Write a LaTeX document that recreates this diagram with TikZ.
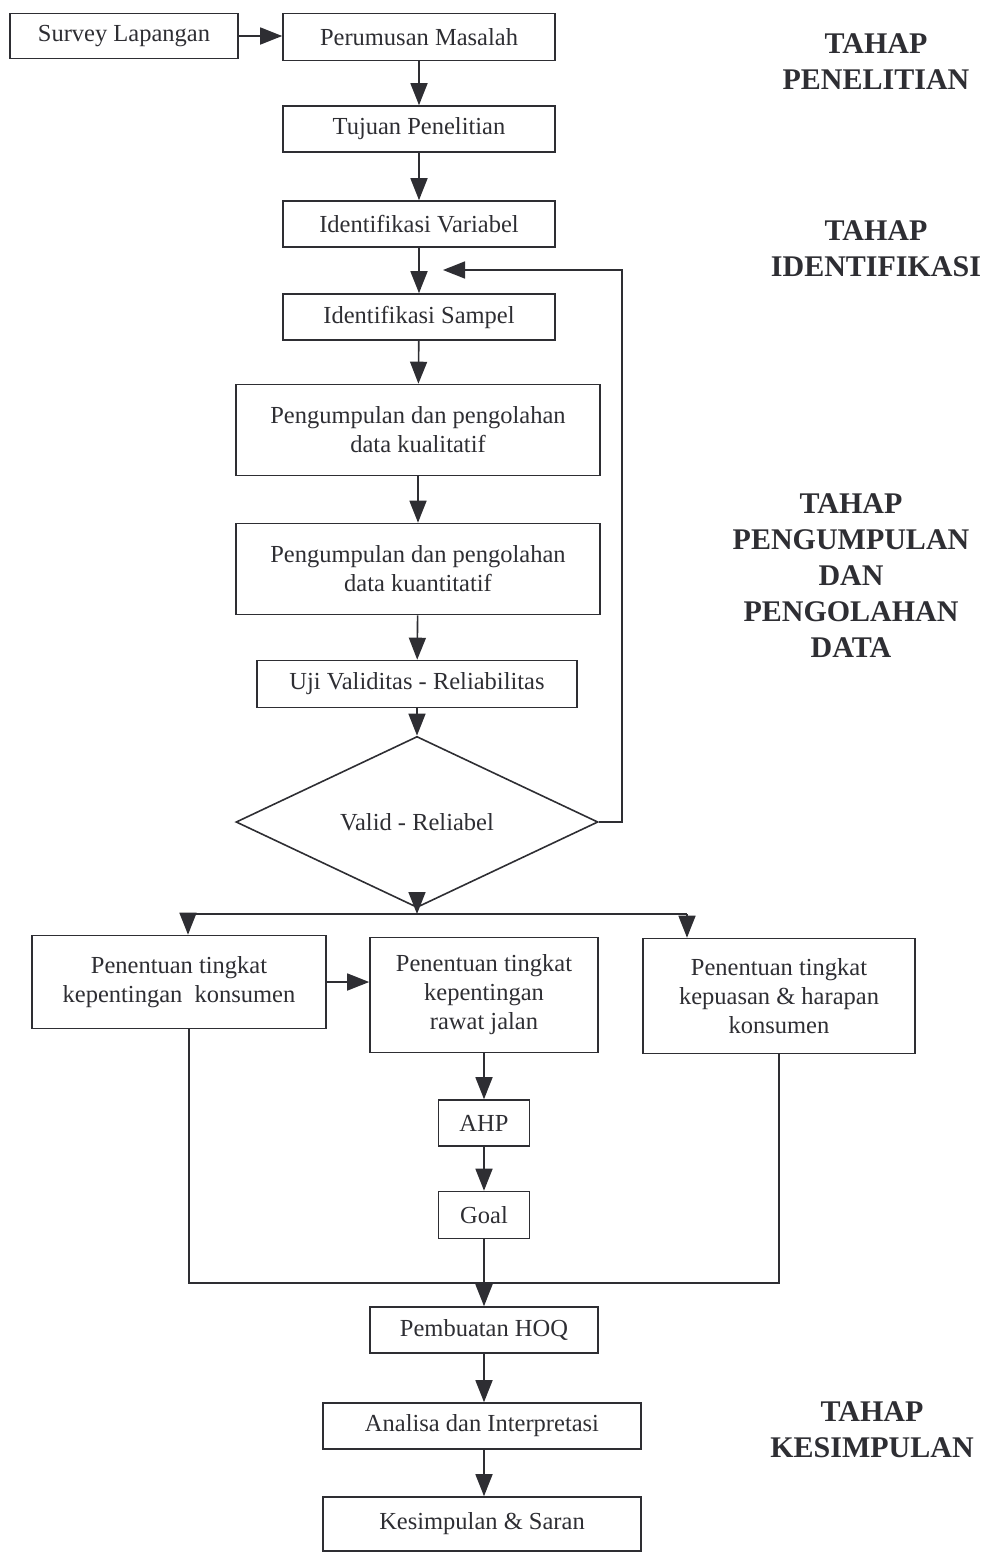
\documentclass[tikz,border=0pt]{standalone}
\usepackage{fontspec}
\setmainfont{Liberation Serif}
\usepackage{xcolor}
\definecolor{tinta}{rgb}{0.18,0.18,0.2}
\usetikzlibrary{shapes.geometric, arrows.meta}

\begin{document}
\begin{tikzpicture}[x=1pt, y=-1pt,
		kotak/.style={draw=tinta, line width=1.6pt, rectangle, align=center, inner sep=2pt, text=tinta, font=\fontsize{24.5}{29}\selectfont},
		tahap/.style={align=center, text=tinta, font=\fontsize{30}{36}\selectfont\bfseries},
		panah/.style={draw=tinta, line width=1.6pt, -{Triangle[length=22pt, width=17pt]}},
		garis/.style={draw=tinta, line width=1.6pt}]
	\useasboundingbox (0,0) rectangle (986,1553);

	% Tahap penelitian
	\node[kotak, minimum width=228pt, minimum height=45pt] (survei) at (124,36) {Survey Lapangan};
	\node[kotak, minimum width=272pt, minimum height=47pt] (masalah) at (419,37) {Perumusan Masalah};
	\node[kotak, minimum width=272pt, minimum height=46pt] (tujuan) at (419,129) {Tujuan Penelitian};

	% Tahap identifikasi
	\node[kotak, minimum width=272pt, minimum height=46pt] (variabel) at (419,224) {Identifikasi Variabel};
	\node[kotak, minimum width=272pt, minimum height=46pt] (sampel) at (419,317) {Identifikasi Sampel};

	% Tahap pengumpulan dan pengolahan data
	\node[kotak, minimum width=364pt, minimum height=91pt] (kualitatif) at (418,430) {Pengumpulan dan pengolahan\\data kualitatif};
	\node[kotak, minimum width=364pt, minimum height=91pt] (kuantitatif) at (418,569) {Pengumpulan dan pengolahan\\data kuantitatif};
	\node[kotak, minimum width=320pt, minimum height=47pt] (uji) at (417,684) {Uji Validitas - Reliabilitas};
	\node[kotak, shape=diamond, minimum width=362pt, minimum height=135pt, inner sep=0pt] (valid) at (417,822) {Valid - Reliabel};

	% Tiga cabang penentuan tingkat
	\node[kotak, minimum width=294pt, minimum height=93pt] (penting) at (179,982) {Penentuan tingkat\\kepentingan\ \ konsumen};
	\node[kotak, minimum width=228pt, minimum height=115pt] (rawat) at (484,995) {Penentuan tingkat\\kepentingan\\rawat jalan};
	\node[kotak, minimum width=272pt, minimum height=115pt] (puas) at (779,996) {Penentuan tingkat\\kepuasan \& harapan\\konsumen};
	\node[kotak, minimum width=91pt, minimum height=46pt] (ahp) at (484,1123) {AHP};
	\node[kotak, minimum width=91pt, minimum height=47pt] (goal) at (484,1215) {Goal};

	% Tahap kesimpulan
	\node[kotak, minimum width=228pt, minimum height=46pt] (hoq) at (484,1330) {Pembuatan HOQ};
	\node[kotak, minimum width=318pt, minimum height=46pt] (analisa) at (482,1426) {Analisa dan Interpretasi};
	\node[kotak, minimum width=318pt, minimum height=54pt] (saran) at (482,1524) {Kesimpulan \& Saran};

	% Label tahap di kanan
	\node[tahap] (t1) at (876,62) {TAHAP\\PENELITIAN};
	\node[tahap] (t2) at (876,249) {TAHAP\\IDENTIFIKASI};
	\node[tahap] (t3) at (851,576) {TAHAP\\PENGUMPULAN\\DAN\\PENGOLAHAN\\DATA};
	\node[tahap] (t4) at (872,1430) {TAHAP\\KESIMPULAN};

	% Titik bantu
	\coordinate (kanan) at (622,270);
	\coordinate (balik) at (443,270);
	\coordinate (cabang) at (417,914);
	\coordinate (kiri) at (188,914);
	\coordinate (ujung) at (687,914);
	\coordinate (gabung) at (484,1283);

	% Alur utama
	\draw[panah] (survei) -- (survei -| masalah.west);
	\draw[panah] (masalah) -- (tujuan);
	\draw[panah] (tujuan) -- (variabel);
	\draw[panah] (variabel) -- (sampel);
	\draw[panah] (sampel) -- (kualitatif);
	\draw[panah] (kualitatif) -- (kuantitatif);
	\draw[panah] (kuantitatif) -- (uji);
	\draw[panah] (uji) -- (valid);

	% Umpan balik jika tidak valid
	\draw[panah] (valid.east) -| (kanan) -- (balik);

	% Percabangan
	\draw[panah] (valid.south) -- (cabang);
	\draw[garis] (kiri) -- (ujung);
	\draw[panah] (kiri) -- (kiri |- penting.north);
	\draw[panah] (ujung) -- (ujung |- puas.north);
	\draw[panah] (penting.east) -- (penting.east -| rawat.west);
	\draw[panah] (rawat) -- (ahp);
	\draw[panah] (ahp) -- (goal);

	% Penggabungan
	\draw[garis] ([xshift=10pt]penting.south) |- (gabung) -| (puas.south);
	\draw[panah] (goal) -- (hoq);
	\draw[panah] (hoq) -- (analisa.north -| hoq);
	\draw[panah] (analisa.south -| hoq) -- (saran.north -| hoq);
\end{tikzpicture}
\end{document}
